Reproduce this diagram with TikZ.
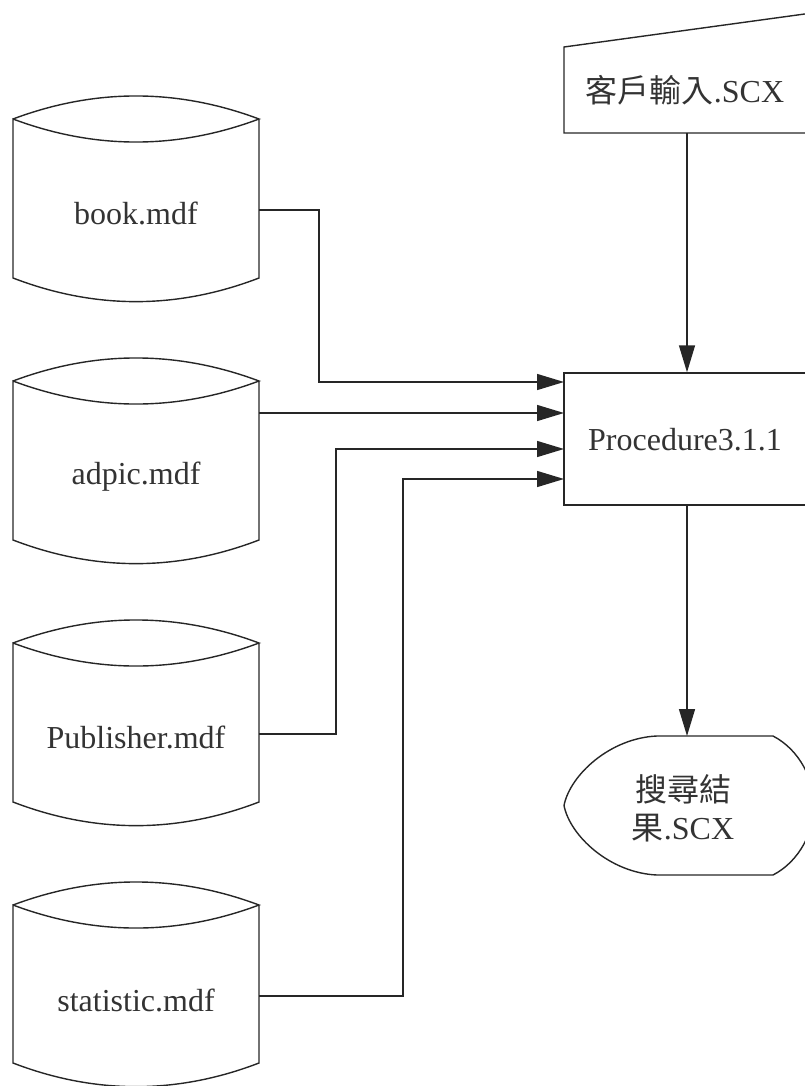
\documentclass[tikz,border=0pt]{standalone}
\usepackage{fontspec}
\setmainfont{Liberation Serif}
\newfontfamily\cjk{Noto Sans CJK TC}
\usetikzlibrary{arrows.meta}
\newcommand\mycyl[2]{%
  \draw[shapeline] (13,#1) .. controls (95,#1-30.7) and (177,#1-30.7) .. (259,#1)
        .. controls (177,#1+30.7) and (95,#1+30.7) .. (13,#1) -- (13,#2)
        .. controls (95,#2+31.5) and (177,#2+31.5) .. (259,#2) -- (259,#1);}
\tikzset{
  shapeline/.style={line width=1.4pt, draw=black!85, line join=miter},
  arr/.style={line width=1.4pt, draw=black!85, -{Triangle[length=27pt,width=16pt]}},
  lbl/.style={font=\fontsize{32}{38}\selectfont, text=black!80, inner sep=0pt},
  procbox/.style={shapeline, minimum width=248pt, minimum height=132pt, inner sep=0pt}
}
\begin{document}
\begin{tikzpicture}[x=1pt,y=-1pt]
\useasboundingbox (0,0) rectangle (804,1086);
% data stores
\mycyl{119}{278}
\mycyl{381}{540}
\mycyl{643}{802}
\mycyl{905}{1063}
\node[lbl] (book) at (136,213) {book.mdf};
\node[lbl] (adpic) at (136,477) {adpic.mdf};
\node[lbl] (pub) at (136,737) {Publisher.mdf};
\node[lbl] (stat) at (136,1000) {statistic.mdf};
\coordinate (bookR) at (259,210);
\coordinate (adpicR) at (259,413);
\coordinate (pubR) at (259,734);
\coordinate (statR) at (259,996);
% process
\node[procbox] (proc) at (688,439) {};
\node[lbl] (proclbl) at (685,440) {Procedure3.1.1};
\coordinate (in1) at (564,382);
\coordinate (in2) at (564,413);
\coordinate (in3) at (564,449);
\coordinate (in4) at (564,479);
% manual input
\draw[shapeline] (812,13) -- (564,47) -- (564,133) -- (812,133);
\node[lbl] (inp) at (685,90) {{\cjk 客戶輸入}.SCX};
\coordinate (inpB) at (687,133);
% display
\draw[shapeline] (657,736) -- (773,736)
  .. controls (800,750) and (814,780) .. (814,805.5)
  .. controls (814,831) and (800,861) .. (773,875)
  -- (657,875)
  .. controls (610,873) and (570,836) .. (564,805.5)
  .. controls (570,775) and (610,738) .. (657,736);
\node[lbl, align=center] (out) at (683,808) {{\cjk 搜尋結}\\{\cjk 果}.SCX};
\coordinate (outT) at (687,736);
% connectors
\draw[arr] (inpB) -- (inpB |- proc.north);
\draw[arr] (bookR) -- ++(60,0) |- (in1);
\draw[arr] (adpicR) -- (in2);
\draw[arr] (pubR) -- ++(77,0) |- (in3);
\draw[arr] (statR) -- ++(144,0) |- (in4);
\draw[arr] (proc.south -| outT) -- (outT);
\end{tikzpicture}
\end{document}
